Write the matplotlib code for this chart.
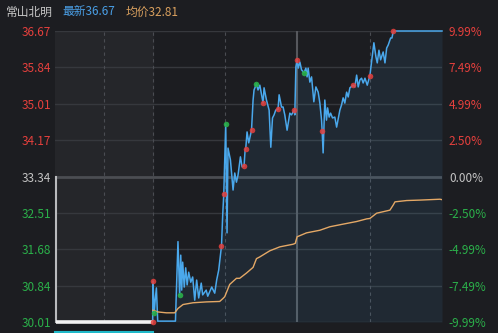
import numpy as np
import matplotlib
matplotlib.use("Agg")
import matplotlib.pyplot as plt
from matplotlib.lines import Line2D

plt.rcParams['font.family'] = ['Noto Sans CJK SC', 'DejaVu Sans']

# ---- datos ----
pre_close = 33.34
price_ticks = [30.01, 30.84, 31.68, 32.51, 33.34, 34.17, 35.01, 35.84, 36.67]
pct_labels = ["-9.99%", "-7.49%", "-4.99%", "-2.50%", "0.00%",
              "2.50%", "4.99%", "7.49%", "9.99%"]

# minutos desde la apertura (0..240)
price_t = [0, 0.3, 1.3, 2.1, 3.1, 4.2, 18.9, 21.0, 22.4, 23.3, 24.1, 24.9, 26.2,
           27.4, 28.6, 29.9, 31.6, 33.2, 34.9, 36.5, 38.2, 40.3, 41.5, 44.4, 45.7,
           49.0, 51.5, 53.1, 54.8, 57.1, 58.1, 59.0, 60.6, 61.7, 62.5, 64.5, 66.7,
           68.1, 69.5, 70.8, 72.8, 74.2, 75.8, 76.7, 77.2, 78.3, 79.7, 82.0, 83.3,
           84.1, 86.1, 87.4, 88.9, 90.3, 91.6, 92.4, 94.4, 96.6, 98.0, 99.4, 100.7,
           102.1, 104.0, 104.9, 106.9, 108.2, 109.6, 111.5, 113.8, 115.2, 117.3,
           117.9, 118.8, 119.8, 120.7, 122.1, 123.5, 125.6, 127.1, 128.1, 129.0,
           130.4, 131.8, 133.7, 135.4, 137.3, 138.7, 140.1, 140.6, 141.4, 142.8,
           144.2, 145.1, 146.4, 147.6, 149.2, 151.1, 152.6, 155.3, 156.7, 158.0,
           159.4, 160.9, 162.2, 163.6, 166.3, 167.7, 169.2, 170.5, 171.9, 173.3,
           174.6, 176.1, 178.0, 180.2, 181.6, 183.5, 185.2, 186.3, 187.7, 189.1,
           191.2, 192.7, 194.1, 195.4, 197.4, 198.5, 199.6, 240]
price_v = [30.01, 30.95, 30.22, 30.51, 30.79, 30.03, 30.03, 31.85, 30.63, 31.54,
           30.74, 31.38, 30.81, 31.25, 30.86, 31.15, 30.92, 31.04, 30.51, 30.97,
           30.56, 30.90, 30.63, 30.74, 30.60, 30.81, 30.67, 30.97, 31.20, 31.75,
           32.46, 32.94, 34.54, 32.05, 33.99, 33.72, 33.03, 33.42, 33.21, 33.37,
           33.79, 33.56, 33.58, 33.95, 33.97, 34.36, 34.11, 34.40, 35.09, 35.32,
           35.46, 35.32, 35.43, 35.21, 35.02, 35.37, 35.09, 34.86, 34.01, 34.68,
           34.75, 34.86, 34.88, 35.21, 34.93, 34.93, 34.75, 34.40, 34.79, 34.75,
           34.86, 34.75, 35.85, 36.01, 35.82, 35.96, 35.78, 35.72, 35.82, 35.62,
           35.82, 35.50, 35.62, 35.05, 35.39, 35.27, 35.02, 34.63, 34.38, 33.88,
           35.09, 34.63, 34.91, 34.70, 34.79, 34.68, 34.70, 34.47, 34.86, 34.98,
           35.14, 35.02, 35.27, 35.16, 35.37, 35.43, 35.39, 35.66, 35.39, 35.55,
           35.59, 35.48, 35.59, 35.43, 35.65, 35.96, 36.40, 36.08, 35.94, 36.23,
           36.01, 36.19, 35.94, 36.28, 36.35, 36.51, 36.51, 36.67, 36.67]

avg_t = [0.2, 4.4, 11.4, 18.3, 21.0, 25.2, 33.5, 44.6, 55.6, 58.4, 59.8, 63.9,
         69.5, 72.2, 77.8, 83.3, 86.1, 88.9, 97.2, 105.5, 116.5, 118.3, 119.8,
         127.6, 138.7, 147.0, 158.0, 169.2, 177.5, 180.2, 185.8, 196.8, 199.6,
         201.0, 210.7, 221.7, 238.3, 240]
avg_v = [30.28, 30.24, 30.22, 30.22, 30.32, 30.41, 30.45, 30.47, 30.48, 30.55,
         30.59, 30.87, 31.01, 31.01, 31.13, 31.26, 31.46, 31.50, 31.64, 31.73,
         31.79, 31.81, 31.96, 32.05, 32.11, 32.19, 32.25, 32.31, 32.37, 32.38,
         32.50, 32.57, 32.69, 32.76, 32.79, 32.80, 32.82, 32.81]

red_t = [0, 0.3, 57.1, 59.0, 75.8, 77.2, 82.0, 91.6, 104.0, 117.3, 119.8,
         140.6, 166.3, 180.2, 199.6]
red_v = [30.01, 30.95, 31.75, 32.94, 33.58, 33.97, 34.40, 35.02, 34.88, 34.86,
         36.01, 34.38, 35.43, 35.65, 36.67]
green_t = [1.3, 22.4, 60.6, 86.1, 125.6]
green_v = [30.22, 30.63, 34.54, 35.46, 35.72]

# pre-apertura (subasta)
pre_t = [-80.5, -80.5, 0]
pre_v = [pre_close, 30.01, 30.01]

# ---- estilo ----
bg = "#1c1d21"
red = "#e5403d"
green = "#2bb04a"
blue = "#4aa8ec"

fig = plt.figure(figsize=(4.98, 3.33), dpi=100, facecolor=bg)
ax = fig.add_axes([55 / 498, 11 / 333, 387 / 498, 291 / 333])
ax.set_facecolor(bg)
ax.set_xlim(-81, 240)
ax.set_ylim(price_ticks[0], price_ticks[-1])
for s in ax.spines.values():
    s.set_visible(False)

ax.axvspan(-81, 0, color="#25262a", zorder=0)

# rejilla
for p in price_ticks:
    if p == pre_close:
        ax.axhline(p, color="#4b4d52", lw=2, zorder=1)
    else:
        ax.axhline(p, color="#36383d", lw=1, zorder=1)
for t in [-40.5, 0, 60, 180]:
    ax.axvline(t, color="#4a4c52", lw=0.8, ls=(0, (3, 3)), zorder=1)
ax.axvline(120, color="#56585d", lw=1.5, zorder=1)

# precio
ax.fill_between(price_t, price_v, price_ticks[0], color=blue, alpha=0.09, lw=0, zorder=2)
ax.plot(price_t, price_v, color=blue, lw=1.1, zorder=3, clip_on=False)
ax.plot(avg_t, avg_v, color="#e4a866", lw=1.0, zorder=3)
ax.plot(red_t, red_v, "o", color=red, ms=4, alpha=0.85, mec="none", zorder=4, clip_on=False)
ax.plot(green_t, green_v, "o", color=green, ms=4, alpha=0.9, mec="none", zorder=4)

ax.plot(pre_t[:2], pre_v[:2], color="#b9babd", lw=1.5, zorder=3, clip_on=False)
ax.plot(pre_t[1:], pre_v[1:], color="#f2f2f2", lw=2.6, zorder=3, clip_on=False,
        solid_capstyle="butt")

def tick_color(p):
    if p > pre_close:
        return red
    if p < pre_close:
        return green
    return "#c4c4c4"

ax.set_xticks([])
ax.set_yticks(price_ticks)
ax.set_yticklabels([f"{p:.2f}" for p in price_ticks], fontsize=8.5)
ax.tick_params(axis="y", length=0, pad=3)
for lab, p in zip(ax.get_yticklabels(), price_ticks):
    lab.set_color(tick_color(p))

ax2 = ax.twinx()
ax2.set_ylim(ax.get_ylim())
for s in ax2.spines.values():
    s.set_visible(False)
ax2.set_yticks(price_ticks)
ax2.set_yticklabels(pct_labels, fontsize=8.5)
ax2.tick_params(axis="y", length=0, pad=5)
for lab, p in zip(ax2.get_yticklabels(), price_ticks):
    lab.set_color(tick_color(p))

# cabecera
fig.text(6 / 498, 1 - 12 / 333, "常山北明", color="#c8c8c8", fontsize=8.5, va="center")
fig.text(62 / 498, 1 - 12 / 333, "最新36.67", color="#4a9fe6", fontsize=8.5, va="center")
fig.text(126 / 498, 1 - 12 / 333, "均价32.81", color="#d9a05e", fontsize=8.5, va="center")

# borde del grafico de volumen
fig.add_artist(Line2D([55 / 498, 153 / 498], [1.5 / 333, 1.5 / 333],
                      color="#1fb8c8", lw=1.5))

fig.savefig("out.png", dpi=100, facecolor=bg)
